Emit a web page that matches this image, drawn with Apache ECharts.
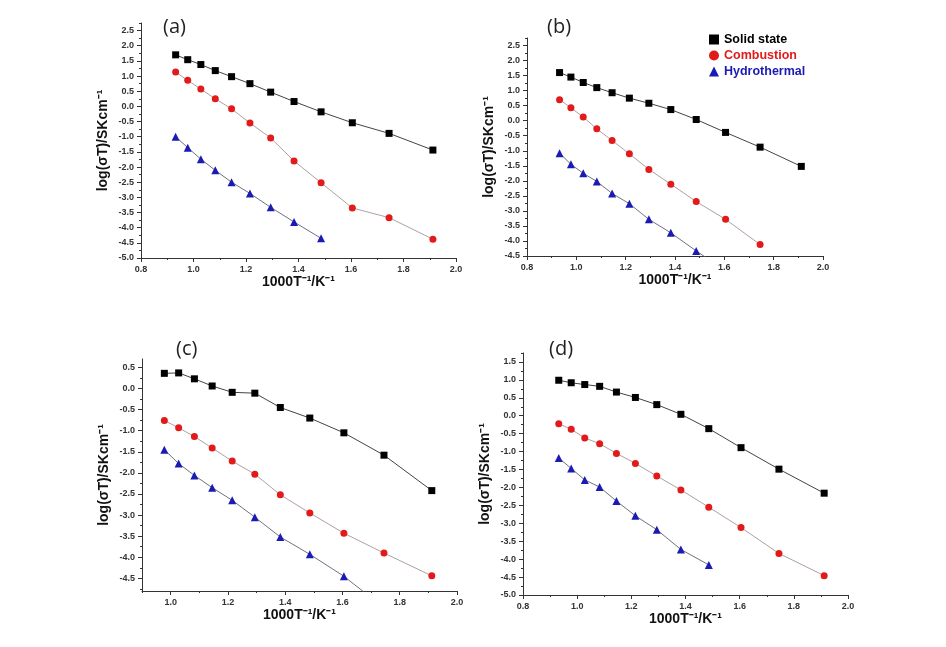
<!DOCTYPE html>
<html>
<head>
<meta charset="utf-8">
<script src="https://cdn.jsdelivr.net/npm/echarts@6/dist/echarts.min.js"></script>
<style>
html,body{margin:0;padding:0;background:#fff;}
#chart{width:946px;height:647px;}
</style>
</head>
<body>
<div id="chart"></div>
<script>
// ---- data ----
const seriesNames = ['Solid state', 'Combustion', 'Hydrothermal'];
const xT = [0.932, 0.978, 1.028, 1.083, 1.145, 1.215, 1.294, 1.383, 1.486, 1.605, 1.745, 1.912];

const aSolid = [1.70, 1.54, 1.38, 1.18, 0.98, 0.75, 0.47, 0.16, -0.18, -0.54, -0.89, -1.44];
const aComb  = [1.13, 0.86, 0.57, 0.25, -0.08, -0.55, -1.04, -1.80, -2.52, -3.35, -3.67, -4.38];
const aHydro = [-1.00, -1.36, -1.74, -2.11, -2.50, -2.87, -3.33, -3.81, -4.35];

const bSolid = [1.60, 1.45, 1.27, 1.10, 0.93, 0.75, 0.58, 0.37, 0.04, -0.39, -0.88, -1.52];
const bComb  = [0.70, 0.43, 0.12, -0.27, -0.66, -1.10, -1.62, -2.11, -2.69, -3.28, -4.12];
const bHydro = [-1.08, -1.45, -1.75, -2.02, -2.42, -2.76, -3.28, -3.73, -4.33, -5.0];

// panel (c) starts at the second temperature
const cSolid = [0.36, 0.37, 0.23, 0.06, -0.09, -0.11, -0.45, -0.70, -1.05, -1.58, -2.42];
const cComb  = [-0.76, -0.93, -1.14, -1.41, -1.72, -2.03, -2.52, -2.95, -3.43, -3.90, -4.44];
const cHydro = [-1.45, -1.78, -2.06, -2.35, -2.65, -3.05, -3.52, -3.93, -4.45, -5.2];

const dSolid = [0.99, 0.92, 0.87, 0.82, 0.66, 0.51, 0.31, 0.04, -0.36, -0.89, -1.49, -2.16];
const dComb  = [-0.22, -0.38, -0.62, -0.78, -1.05, -1.33, -1.68, -2.07, -2.55, -3.12, -3.84, -4.46];
const dHydro = [-1.18, -1.47, -1.79, -1.99, -2.38, -2.79, -3.18, -3.73, -4.16];

const panelLabels = ['(a)', '(b)', '(c)', '(d)'];
const xTicks  = [0.8, 1.0, 1.2, 1.4, 1.6, 1.8, 2.0];
const xTicksC = [1.0, 1.2, 1.4, 1.6, 1.8, 2.0];
const yTicksA = [-5.0, -4.5, -4.0, -3.5, -3.0, -2.5, -2.0, -1.5, -1.0, -0.5, 0.0, 0.5, 1.0, 1.5, 2.0, 2.5];
const yTicksB = [-4.5, -4.0, -3.5, -3.0, -2.5, -2.0, -1.5, -1.0, -0.5, 0.0, 0.5, 1.0, 1.5, 2.0, 2.5];
const yTicksC = [-4.5, -4.0, -3.5, -3.0, -2.5, -2.0, -1.5, -1.0, -0.5, 0.0, 0.5];
const yTicksD = [-5.0, -4.5, -4.0, -3.5, -3.0, -2.5, -2.0, -1.5, -1.0, -0.5, 0.0, 0.5, 1.0, 1.5];
const xTitle = '1000T\u207B\u00B9/K\u207B\u00B9';
const yTitle = 'log(\u03C3T)/SKcm\u207B\u00B9';

// ---- layout / style ----
const panels = [
  {grid:{left:141, top:23, width:315, height:235}, xr:[0.8,2.0], yr:[-5.0,2.75], xt:xTicks, yt:yTicksA, xOff:0,
   data:[aSolid,aComb,aHydro], lab:{left:158, top:12}},
  {grid:{left:527, top:38, width:296, height:218}, xr:[0.8,2.0], yr:[-4.5,2.75], xt:xTicks, yt:yTicksB, xOff:0,
   data:[bSolid,bComb,bHydro], lab:{left:542, top:12}},
  {grid:{left:142, top:359, width:315, height:232}, xr:[0.9,2.0], yr:[-4.8,0.7], xt:xTicksC, yt:yTicksC, xOff:1,
   data:[cSolid,cComb,cHydro], lab:{left:171, top:334}},
  {grid:{left:523, top:353, width:325, height:242}, xr:[0.8,2.0], yr:[-5.0,1.75], xt:xTicks, yt:yTicksD, xOff:0,
   data:[dSolid,dComb,dHydro], lab:{left:544, top:334}}
];
const markColors = ['#000000', '#e21a1a', '#1a1ab4'];
const lineColors = ['#444444', '#b0a0a0', '#707080'];
const symbols = ['rect', 'circle', 'triangle'];
const symSizes = [7, 7, 8];
const axisColor = '#333';
const labelStyle = {color:'#333', fontSize:9, fontWeight:'bold', fontFamily:'Liberation Sans, Arial, sans-serif'};
const titleStyle = {color:'#111', fontSize:14, fontWeight:'bold', fontFamily:'Liberation Sans, Arial, sans-serif'};

function minorVals(min, max, step) {
  const out = [];
  const start = Math.ceil(min / step - 1e-9) * step;
  for (let v = start; v <= max + 1e-9; v += step) out.push(Math.round(v * 1000) / 1000);
  return out;
}

const grids = [], xAxes = [], yAxes = [], series = [], titles = [];
panels.forEach((p, i) => {
  grids.push(Object.assign({containLabel:false}, p.grid));
  xAxes.push({
    type:'value', gridIndex:i, min:p.xr[0], max:p.xr[1], position:'bottom',
    axisLine:{show:true, onZero:false, lineStyle:{color:axisColor, width:1}},
    splitLine:{show:false},
    axisTick:{show:true, inside:false, length:4, customValues:p.xt, lineStyle:{color:axisColor}},
    axisLabel:Object.assign({customValues:p.xt, margin:7, formatter:v => Number(v).toFixed(1)}, labelStyle),
    name:xTitle, nameLocation:'middle', nameGap:17, nameTextStyle:titleStyle
  });
  xAxes.push({
    type:'value', gridIndex:i, min:p.xr[0], max:p.xr[1], position:'bottom',
    axisLine:{show:false, onZero:false}, splitLine:{show:false}, axisLabel:{show:false},
    axisTick:{show:true, inside:false, length:2, customValues:minorVals(p.xr[0], p.xr[1], 0.1), lineStyle:{color:axisColor}}
  });
  yAxes.push({
    type:'value', gridIndex:i, min:p.yr[0], max:p.yr[1], position:'left',
    axisLine:{show:true, onZero:false, lineStyle:{color:axisColor, width:1}},
    splitLine:{show:false},
    axisTick:{show:true, inside:false, length:4, customValues:p.yt, lineStyle:{color:axisColor}},
    axisLabel:Object.assign({customValues:p.yt, margin:7, formatter:v => Number(v).toFixed(1)}, labelStyle),
    name:yTitle, nameLocation:'middle', nameGap:31, nameTextStyle:titleStyle
  });
  yAxes.push({
    type:'value', gridIndex:i, min:p.yr[0], max:p.yr[1], position:'left',
    axisLine:{show:false, onZero:false}, splitLine:{show:false}, axisLabel:{show:false},
    axisTick:{show:true, inside:false, length:2, customValues:minorVals(p.yr[0], p.yr[1], 0.25), lineStyle:{color:axisColor}}
  });
  p.data.forEach((vals, s) => {
    series.push({
      name:seriesNames[s], type:'line', xAxisIndex:2*i, yAxisIndex:2*i,
      data:vals.map((v, k) => [xT[k + p.xOff], v]),
      symbol:symbols[s], symbolSize:symSizes[s], showSymbol:true,
      itemStyle:{color:markColors[s]},
      lineStyle:{color:lineColors[s], width:1},
      clip:true, animation:false, z:3
    });
  });
  titles.push({text:panelLabels[i], left:p.lab.left, top:p.lab.top,
    textStyle:{fontSize:20, fontWeight:'normal', color:'#222', fontFamily:'Open Sans, sans-serif'}});
});

const chart = echarts.init(document.getElementById('chart'), null, {renderer:'canvas'});
chart.setOption({
  backgroundColor:'#ffffff',
  animation:false,
  title:titles,
  legend:{
    orient:'vertical', left:704, top:28, itemWidth:10, itemHeight:10, itemGap:3,
    textStyle:{fontSize:12.5, fontWeight:'bold', fontFamily:'Liberation Sans, Arial, sans-serif'},
    data:seriesNames.map((n, s) => ({name:n, icon:symbols[s],
      itemStyle:{color:markColors[s]}, textStyle:{color:markColors[s]}}))
  },
  grid:grids, xAxis:xAxes, yAxis:yAxes, series:series
});
</script>
</body>
</html>
